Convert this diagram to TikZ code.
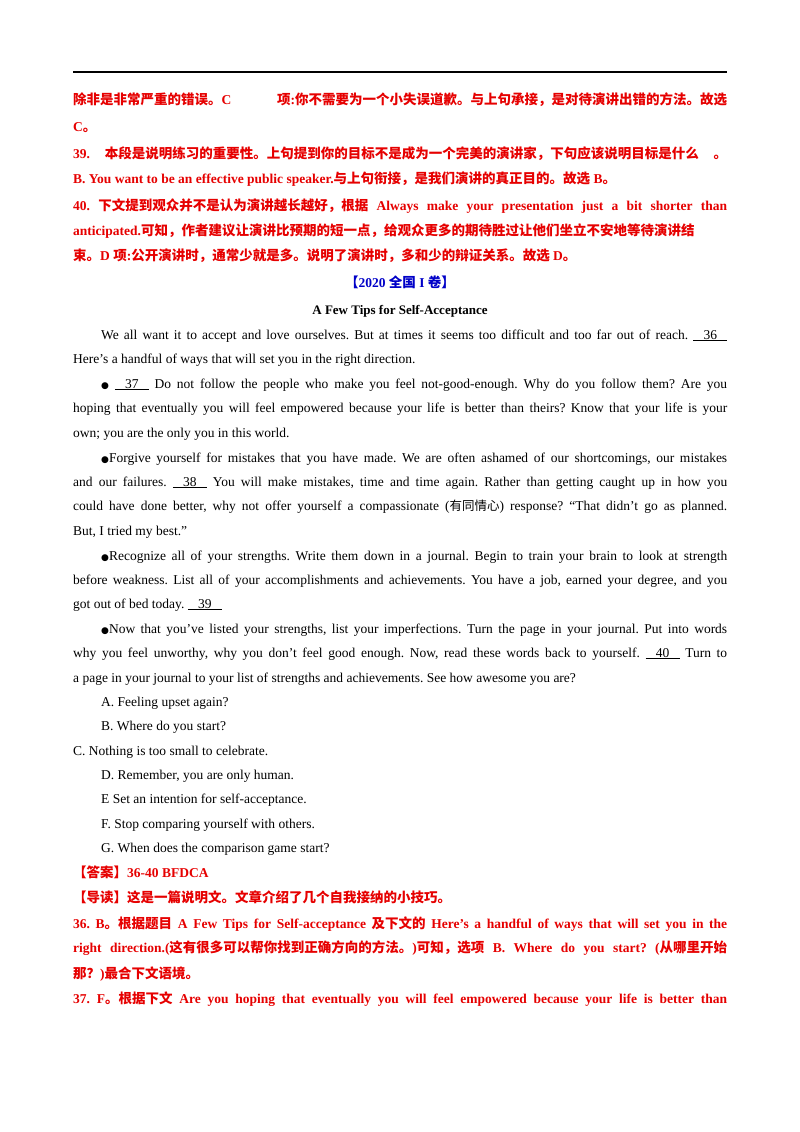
\documentclass[tikz,border=0pt]{standalone}
\usepackage{fontspec}
\setmainfont{Liberation Serif}
\newfontfamily\cjk{Noto Sans CJK SC}
\newfontfamily\dvs{DejaVu Sans}
\XeTeXlinebreaklocale "zh"
\XeTeXlinebreakskip=0pt plus 1fil
\XeTeXinterchartokenstate=1
\newXeTeXintercharclass\cjkclass
\count255="4E00
\loop \XeTeXcharclass\count255=\cjkclass \ifnum\count255<"9FFF \advance\count255 1 \repeat
\count255="3000
\loop \XeTeXcharclass\count255=\cjkclass \ifnum\count255<"303F \advance\count255 1 \repeat
\count255="FF00
\loop \XeTeXcharclass\count255=\cjkclass \ifnum\count255<"FF60 \advance\count255 1 \repeat
\XeTeXinterchartoks 0 \cjkclass = {\cjk}
\XeTeXinterchartoks 4095 \cjkclass = {\cjk}
\XeTeXinterchartoks \cjkclass 0 = {\rmfamily}
\XeTeXinterchartoks \cjkclass 4095 = {\rmfamily}
\definecolor{rd}{RGB}{230,0,0}
\definecolor{bl}{RGB}{0,0,200}
\newcommand{\blk}[1]{\underline{\makebox[34pt]{#1}}}
\newcommand{\bdot}{{\dvs\small ●}}
\tikzset{ln/.style={anchor=base west,inner sep=0pt,font=\fontsize{13.5}{16}\selectfont\frenchspacing},
 rl/.style={ln,text=rd,font=\fontsize{13.5}{16}\selectfont\bfseries\frenchspacing}}
\newcommand{\J}[2]{\hbox to #1pt{#2}}
\begin{document}
\begin{tikzpicture}[x=1pt,y=1pt]
\path[use as bounding box,fill=white] (0,0) rectangle (800,-1132);
\draw[line width=1.2pt] (73,-72) coordinate (r1) -- (727,-72) coordinate (r2);
\node[rl] (l1) at (73,-104) {\J{654}{除非是非常严重的错误。C 项:你不需要为一个小失误道歉。与上句承接，是对待演讲出错的方法。故选}};
\node[rl] (l2) at (73,-131) {C。};
\node[rl] (l3) at (73,-158) {\J{654}{39. 本段是说明练习的重要性。上句提到你的目标不是成为一个完美的演讲家，下句应该说明目标是什么 。}};
\node[rl] (l4) at (73,-183) {B. You want to be an effective public speaker.与上句衔接，是我们演讲的真正目的。故选 B。};
\node[rl] (l5) at (73,-210) {\J{654}{40. 下文提到观众并不是认为演讲越长越好，根据 Always make your presentation just a bit shorter than}};
\node[rl] (l6) at (73,-235) {\J{654}{anticipated.可知，作者建议让演讲比预期的短一点，给观众更多的期待胜过让他们坐立不安地等待演讲结}};
\node[rl] (l7) at (73,-260) {束。D 项:公开演讲时，通常少就是多。说明了演讲时，多和少的辩证关系。故选 D。};
\node[ln,anchor=base,text=bl,font=\fontsize{13.5}{16}\selectfont\bfseries] (t1) at (400,-287) {【2020 全国 I 卷】};
\node[ln,anchor=base,font=\fontsize{13}{16}\selectfont\bfseries] (t2) at (400,-314) {A Few Tips for Self-Acceptance};
\node[ln] (a1) at (101,-339) {\J{626}{We all want it to accept and love ourselves. But at times it seems too difficult and too far out of reach. \blk{36}}};
\node[ln] (a2) at (73,-363) {Here’s a handful of ways that will set you in the right direction.};
\node[ln] (a3) at (101,-388) {\J{626}{\bdot\ \blk{37} Do not follow the people who make you feel not-good-enough. Why do you follow them? Are you}};
\node[ln] (a4) at (73,-412) {\J{654}{hoping that eventually you will feel empowered because your life is better than theirs? Know that your life is your}};
\node[ln] (a5) at (73,-437) {own; you are the only you in this world.};
\node[ln] (a6) at (101,-462) {\J{626}{\bdot Forgive yourself for mistakes that you have made. We are often ashamed of our shortcomings, our mistakes}};
\node[ln] (a7) at (73,-486) {\J{654}{and our failures. \blk{38} You will make mistakes, time and time again. Rather than getting caught up in how you}};
\node[ln] (a8) at (73,-510) {\J{654}{could have done better, why not offer yourself a compassionate ({\cjk\fontsize{12.5}{16}\selectfont 有同情心}) response? “That didn’t go as planned.}};
\node[ln] (a9) at (73,-535) {But, I tried my best.”};
\node[ln] (a10) at (101,-560) {\J{626}{\bdot Recognize all of your strengths. Write them down in a journal. Begin to train your brain to look at strength}};
\node[ln] (a11) at (73,-584) {\J{654}{before weakness. List all of your accomplishments and achievements. You have a job, earned your degree, and you}};
\node[ln] (a12) at (73,-608) {got out of bed today. \blk{39}};
\node[ln] (a13) at (101,-633) {\J{626}{\bdot Now that you’ve listed your strengths, list your imperfections. Turn the page in your journal. Put into words}};
\node[ln] (a14) at (73,-657) {\J{654}{why you feel unworthy, why you don’t feel good enough. Now, read these words back to yourself. \blk{40} Turn to}};
\node[ln] (a15) at (73,-682) {a page in your journal to your list of strengths and achievements. See how awesome you are?};
\node[ln] (oA) at (101,-706) {A. Feeling upset again?};
\node[ln] (oB) at (101,-730) {B. Where do you start?};
\node[ln] (oC) at (73,-755) {C. Nothing is too small to celebrate.};
\node[ln] (oD) at (101,-779) {D. Remember, you are only human.};
\node[ln] (oE) at (101,-803) {E Set an intention for self-acceptance.};
\node[ln] (oF) at (101,-828) {F. Stop comparing yourself with others.};
\node[ln] (oG) at (101,-852) {G. When does the comparison game start?};
\node[rl] (k1) at (73,-877) {【答案】36-40 BFDCA};
\node[rl] (k2) at (73,-902) {【导读】这是一篇说明文。文章介绍了几个自我接纳的小技巧。};
\node[rl] (k3) at (73,-928) {\J{654}{36. B。根据题目 A Few Tips for Self-acceptance 及下文的 Here's a handful of ways that will set you in the}};
\node[rl] (k4) at (73,-952) {\J{654}{right direction.(这有很多可以帮你找到正确方向的方法。)可知，选项 B. Where do you start? (从哪里开始}};
\node[rl] (k5) at (73,-978) {那？)最合下文语境。};
\node[rl] (k6) at (73,-1003) {\J{654}{37. F。根据下文 Are you hoping that eventually you will feel empowered because your life is better than}};
\end{tikzpicture}
\end{document}
